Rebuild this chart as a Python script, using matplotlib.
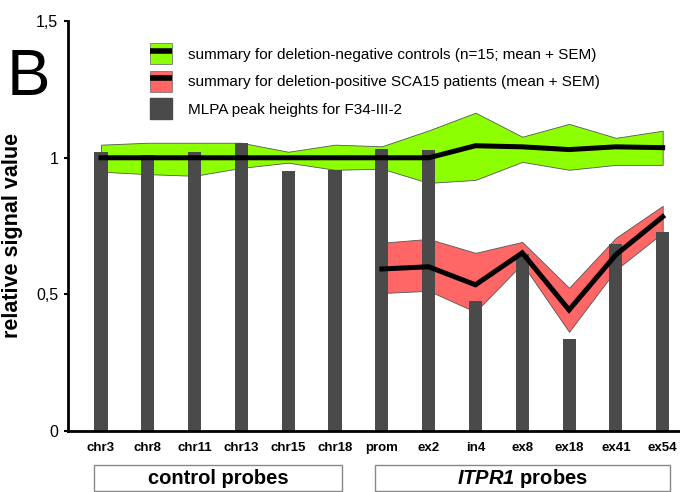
import matplotlib.pyplot as plt
from matplotlib.patches import Patch, Rectangle
from matplotlib.lines import Line2D
from matplotlib.legend_handler import HandlerTuple
import numpy as np

plt.rcParams['font.family'] = ['Liberation Sans', 'DejaVu Sans']
plt.rcParams['mathtext.fontset'] = 'custom'
plt.rcParams['mathtext.bfit'] = 'Liberation Sans:bold:italic'

# probes
probes = ['chr3', 'chr8', 'chr11', 'chr13', 'chr15', 'chr18',
          'prom', 'ex2', 'in4', 'ex8', 'ex18', 'ex41', 'ex54']

# MLPA peak heights for F34-III-2
peaks = [1.022, 1.011, 1.022, 1.055, 0.952, 0.956,
         1.033, 1.029, 0.476, 0.648, 0.337, 0.685, 0.729]

# deletion-negative controls (all probes)
ctrl_mean = [1.0, 1.0, 1.0, 1.0, 1.0, 1.0,
             1.0, 1.0, 1.044, 1.04, 1.03, 1.04, 1.037]
ctrl_upper = [1.048, 1.055, 1.055, 1.055, 1.022, 1.048,
              1.042, 1.10, 1.165, 1.077, 1.124, 1.073, 1.099]
ctrl_lower = [0.949, 0.94, 0.934, 0.963, 0.982, 0.956,
              0.96, 0.908, 0.919, 0.985, 0.956, 0.974, 0.974]

# deletion-positive SCA15 patients (ITPR1 probes only, prom..ex54)
pat_mean = [0.593, 0.601, 0.535, 0.652, 0.443, 0.645, 0.784]
pat_upper = [0.689, 0.703, 0.652, 0.692, 0.524, 0.707, 0.824]
pat_lower = [0.505, 0.513, 0.436, 0.612, 0.363, 0.59, 0.725]

green = '#8cff00'
red = '#ff6666'
bar_col = '#4a4a4a'

x = np.arange(len(probes))
xp = x[6:]

fig = plt.figure(figsize=(6.8, 4.92), dpi=100)
ax = fig.add_axes([0.1, 0.124, 0.9, 0.833])

ax.fill_between(x, ctrl_lower, ctrl_upper, color=green, edgecolor='#555555',
                linewidth=0.6, zorder=1)
ax.fill_between(xp, pat_lower, pat_upper, color=red, edgecolor='#555555',
                linewidth=0.6, zorder=1)
ax.bar(x, peaks, width=0.28, color=bar_col, zorder=2)
ax.plot(x, ctrl_mean, color='black', lw=3.6, zorder=3, solid_joinstyle='miter')
ax.plot(xp, pat_mean, color='black', lw=3.6, zorder=3, solid_joinstyle='miter')

ax.set_xlim(-0.705, 12.37)
ax.set_ylim(0, 1.5)
for s in ['top', 'right']:
    ax.spines[s].set_visible(False)
ax.spines['left'].set_linewidth(2)
ax.spines['bottom'].set_linewidth(2)

ax.set_yticks([0, 0.5, 1, 1.5])
ax.set_yticklabels(['0', '0,5', '1', '1,5'], fontsize=11.5)
ax.tick_params(axis='y', length=3, width=1.5, pad=4)
ax.set_xticks(x)
ax.set_xticklabels(probes, fontsize=9.5, fontweight='bold')
ax.tick_params(axis='x', length=0, pad=8)

fig.text(0.018, 0.522, 'relative signal value', rotation=90, fontsize=15.5,
         fontweight='bold', ha='center', va='center')
fig.text(0.010, 0.807, 'B', fontsize=47, ha='left', va='baseline')

# legend
handles = [
    (Patch(facecolor=green, edgecolor='#777777', linewidth=0.6),
     Line2D([], [], color='black', lw=4, solid_capstyle='butt')),
    (Patch(facecolor=red, edgecolor='#777777', linewidth=0.6),
     Line2D([], [], color='black', lw=4, solid_capstyle='butt')),
    Patch(facecolor=bar_col, edgecolor=bar_col),
]
labels = ['summary for deletion-negative controls (n=15; mean + SEM)',
          'summary for deletion-positive SCA15 patients (mean + SEM)',
          'MLPA peak heights for F34-III-2']
ax.legend(handles, labels, loc='upper left', bbox_to_anchor=(0.112, 0.98),
          frameon=False, fontsize=11, handlelength=1.4, handleheight=1.75,
          labelspacing=0.42, handletextpad=1.1,
          handler_map={tuple: HandlerTuple(ndivide=1, pad=0)})

# group boxes below the axis
def group_box(x0, x1):
    fx0, fx1 = x0 / 680, x1 / 680
    fy0, fy1 = 1 - 491 / 492, 1 - 465 / 492
    fig.patches.append(Rectangle((fx0, fy0), fx1 - fx0, fy1 - fy0,
                                 transform=fig.transFigure, fill=False,
                                 edgecolor='#888888', linewidth=1))
    return (fx0 + fx1) / 2, (fy0 + fy1) / 2

cx, cy = group_box(94, 342)
fig.text(cx, cy, 'control probes', fontsize=14.5, fontweight='bold',
         ha='center', va='center')
cx, cy = group_box(375, 670)
fig.text(cx, cy, r'$\mathbfit{ITPR1}$' + ' probes', fontsize=14.5,
         fontweight='bold', ha='center', va='center')

fig.savefig('out.png', dpi=100)
